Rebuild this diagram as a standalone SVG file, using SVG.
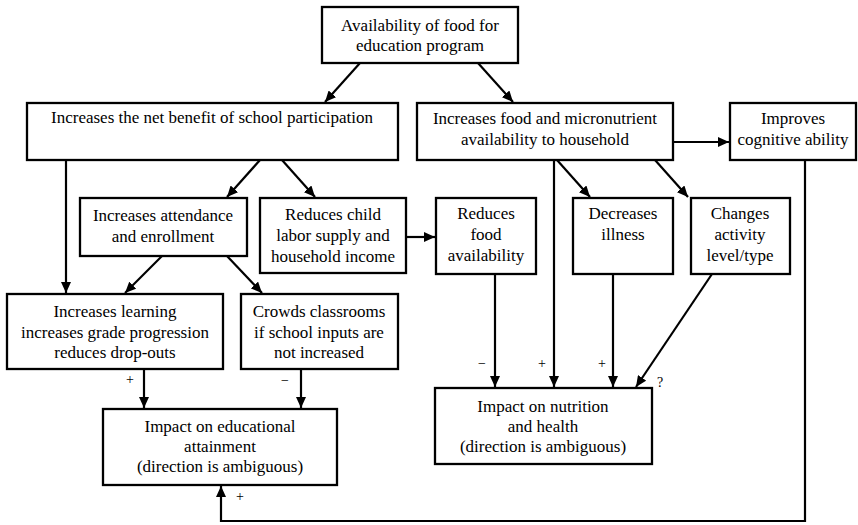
<svg xmlns="http://www.w3.org/2000/svg" width="858" height="525" viewBox="0 0 858 525">
<defs>
<marker id="ah" markerUnits="userSpaceOnUse" markerWidth="11" markerHeight="10" viewBox="0 0 11 10" refX="11" refY="5" orient="auto">
<path d="M0,0 L11,5 L0,10 z" fill="#000000"/>
</marker>
</defs>
<rect width="858" height="525" fill="#ffffff"/>
<g id="connectors" fill="none" stroke="#000000" stroke-width="2.2">
<line x1="360" y1="63" x2="325" y2="102" marker-end="url(#ah)"/>
<line x1="478" y1="63" x2="513" y2="102" marker-end="url(#ah)"/>
<line x1="673" y1="142" x2="729" y2="142" marker-end="url(#ah)"/>
<line x1="66" y1="160" x2="66" y2="293" marker-end="url(#ah)"/>
<line x1="260" y1="160" x2="227" y2="197" marker-end="url(#ah)"/>
<line x1="282" y1="160" x2="315" y2="197" marker-end="url(#ah)"/>
<line x1="406" y1="237" x2="435" y2="237" marker-end="url(#ah)"/>
<line x1="162" y1="256" x2="125" y2="293" marker-end="url(#ah)"/>
<line x1="227" y1="256" x2="262" y2="293" marker-end="url(#ah)"/>
<line x1="557" y1="160" x2="590" y2="197" marker-end="url(#ah)"/>
<line x1="655" y1="160" x2="688" y2="197" marker-end="url(#ah)"/>
<line x1="554" y1="160" x2="554" y2="387" marker-end="url(#ah)"/>
<line x1="495" y1="274" x2="495" y2="387" marker-end="url(#ah)"/>
<line x1="613" y1="274" x2="613" y2="387" marker-end="url(#ah)"/>
<line x1="712" y1="274" x2="636" y2="387" marker-end="url(#ah)"/>
<line x1="144" y1="369" x2="144" y2="408" marker-end="url(#ah)"/>
<line x1="301" y1="369" x2="301" y2="408" marker-end="url(#ah)"/>
<polyline points="805,160 805,521 221,521 221,486" marker-end="url(#ah)"/>
</g>
<g id="labels">
<text x="130" y="384" font-family="Liberation Serif, serif" font-size="14" text-anchor="middle" fill="#000000">+</text>
<text x="285" y="385" font-family="Liberation Serif, serif" font-size="14" text-anchor="middle" fill="#000000">−</text>
<text x="240" y="501" font-family="Liberation Serif, serif" font-size="14" text-anchor="middle" fill="#000000">+</text>
<text x="482" y="368" font-family="Liberation Serif, serif" font-size="14" text-anchor="middle" fill="#000000">−</text>
<text x="542" y="368" font-family="Liberation Serif, serif" font-size="14" text-anchor="middle" fill="#000000">+</text>
<text x="602" y="368" font-family="Liberation Serif, serif" font-size="14" text-anchor="middle" fill="#000000">+</text>
<text x="660" y="387" font-family="Liberation Serif, serif" font-size="14" text-anchor="middle" fill="#000000">?</text>
</g>
<g id="n-top">
<rect x="322" y="7" width="196" height="56" fill="#ffffff" stroke="#000000" stroke-width="2.3"/>
<text x="420" y="31" font-family="Liberation Serif, serif" font-size="17" text-anchor="middle" fill="#000000">Availability of food for</text>
<text x="420" y="51" font-family="Liberation Serif, serif" font-size="17" text-anchor="middle" fill="#000000">education program</text>
</g>
<g id="n-netbenefit">
<rect x="27" y="103" width="371" height="57" fill="#ffffff" stroke="#000000" stroke-width="2.3"/>
<text x="212" y="123" font-family="Liberation Serif, serif" font-size="17" text-anchor="middle" fill="#000000">Increases the net benefit of school participation</text>
</g>
<g id="n-food">
<rect x="417" y="103" width="256" height="57" fill="#ffffff" stroke="#000000" stroke-width="2.3"/>
<text x="545" y="124" font-family="Liberation Serif, serif" font-size="17" text-anchor="middle" fill="#000000">Increases food and micronutrient</text>
<text x="545" y="145" font-family="Liberation Serif, serif" font-size="17" text-anchor="middle" fill="#000000">availability to household</text>
</g>
<g id="n-cognitive">
<rect x="730" y="103" width="126" height="57" fill="#ffffff" stroke="#000000" stroke-width="2.3"/>
<text x="793" y="124" font-family="Liberation Serif, serif" font-size="17" text-anchor="middle" fill="#000000">Improves</text>
<text x="793" y="145" font-family="Liberation Serif, serif" font-size="17" text-anchor="middle" fill="#000000">cognitive ability</text>
</g>
<g id="n-attendance">
<rect x="80" y="198" width="167" height="58" fill="#ffffff" stroke="#000000" stroke-width="2.3"/>
<text x="163" y="221" font-family="Liberation Serif, serif" font-size="17" text-anchor="middle" fill="#000000">Increases attendance</text>
<text x="163" y="242" font-family="Liberation Serif, serif" font-size="17" text-anchor="middle" fill="#000000">and enrollment</text>
</g>
<g id="n-childlabor">
<rect x="260" y="198" width="146" height="75" fill="#ffffff" stroke="#000000" stroke-width="2.3"/>
<text x="333" y="220" font-family="Liberation Serif, serif" font-size="17" text-anchor="middle" fill="#000000">Reduces child</text>
<text x="333" y="241" font-family="Liberation Serif, serif" font-size="17" text-anchor="middle" fill="#000000">labor supply and</text>
<text x="333" y="262" font-family="Liberation Serif, serif" font-size="17" text-anchor="middle" fill="#000000">household income</text>
</g>
<g id="n-reducesfood">
<rect x="436" y="198" width="100" height="76" fill="#ffffff" stroke="#000000" stroke-width="2.3"/>
<text x="486" y="219" font-family="Liberation Serif, serif" font-size="17" text-anchor="middle" fill="#000000">Reduces</text>
<text x="486" y="240" font-family="Liberation Serif, serif" font-size="17" text-anchor="middle" fill="#000000">food</text>
<text x="486" y="261" font-family="Liberation Serif, serif" font-size="17" text-anchor="middle" fill="#000000">availability</text>
</g>
<g id="n-illness">
<rect x="573" y="198" width="100" height="76" fill="#ffffff" stroke="#000000" stroke-width="2.3"/>
<text x="623" y="219" font-family="Liberation Serif, serif" font-size="17" text-anchor="middle" fill="#000000">Decreases</text>
<text x="623" y="240" font-family="Liberation Serif, serif" font-size="17" text-anchor="middle" fill="#000000">illness</text>
</g>
<g id="n-activity">
<rect x="691" y="198" width="99" height="76" fill="#ffffff" stroke="#000000" stroke-width="2.3"/>
<text x="740" y="219" font-family="Liberation Serif, serif" font-size="17" text-anchor="middle" fill="#000000">Changes</text>
<text x="740" y="240" font-family="Liberation Serif, serif" font-size="17" text-anchor="middle" fill="#000000">activity</text>
<text x="740" y="261" font-family="Liberation Serif, serif" font-size="17" text-anchor="middle" fill="#000000">level/type</text>
</g>
<g id="n-learning">
<rect x="7" y="294" width="216" height="75" fill="#ffffff" stroke="#000000" stroke-width="2.3"/>
<text x="115" y="317" font-family="Liberation Serif, serif" font-size="17" text-anchor="middle" fill="#000000">Increases learning</text>
<text x="115" y="338" font-family="Liberation Serif, serif" font-size="17" text-anchor="middle" fill="#000000">increases grade progression</text>
<text x="115" y="358" font-family="Liberation Serif, serif" font-size="17" text-anchor="middle" fill="#000000">reduces drop-outs</text>
</g>
<g id="n-crowds">
<rect x="241" y="294" width="157" height="75" fill="#ffffff" stroke="#000000" stroke-width="2.3"/>
<text x="319" y="317" font-family="Liberation Serif, serif" font-size="17" text-anchor="middle" fill="#000000">Crowds classrooms</text>
<text x="319" y="338" font-family="Liberation Serif, serif" font-size="17" text-anchor="middle" fill="#000000">if school inputs are</text>
<text x="319" y="358" font-family="Liberation Serif, serif" font-size="17" text-anchor="middle" fill="#000000">not increased</text>
</g>
<g id="n-education">
<rect x="103" y="409" width="234" height="76" fill="#ffffff" stroke="#000000" stroke-width="2.3"/>
<text x="220" y="432" font-family="Liberation Serif, serif" font-size="17" text-anchor="middle" fill="#000000">Impact on educational</text>
<text x="220" y="452" font-family="Liberation Serif, serif" font-size="17" text-anchor="middle" fill="#000000">attainment</text>
<text x="220" y="472" font-family="Liberation Serif, serif" font-size="17" text-anchor="middle" fill="#000000">(direction is ambiguous)</text>
</g>
<g id="n-nutrition">
<rect x="435" y="388" width="217" height="76" fill="#ffffff" stroke="#000000" stroke-width="2.3"/>
<text x="543" y="412" font-family="Liberation Serif, serif" font-size="17" text-anchor="middle" fill="#000000">Impact on nutrition</text>
<text x="543" y="432" font-family="Liberation Serif, serif" font-size="17" text-anchor="middle" fill="#000000">and health</text>
<text x="543" y="452" font-family="Liberation Serif, serif" font-size="17" text-anchor="middle" fill="#000000">(direction is ambiguous)</text>
</g>
</svg>
